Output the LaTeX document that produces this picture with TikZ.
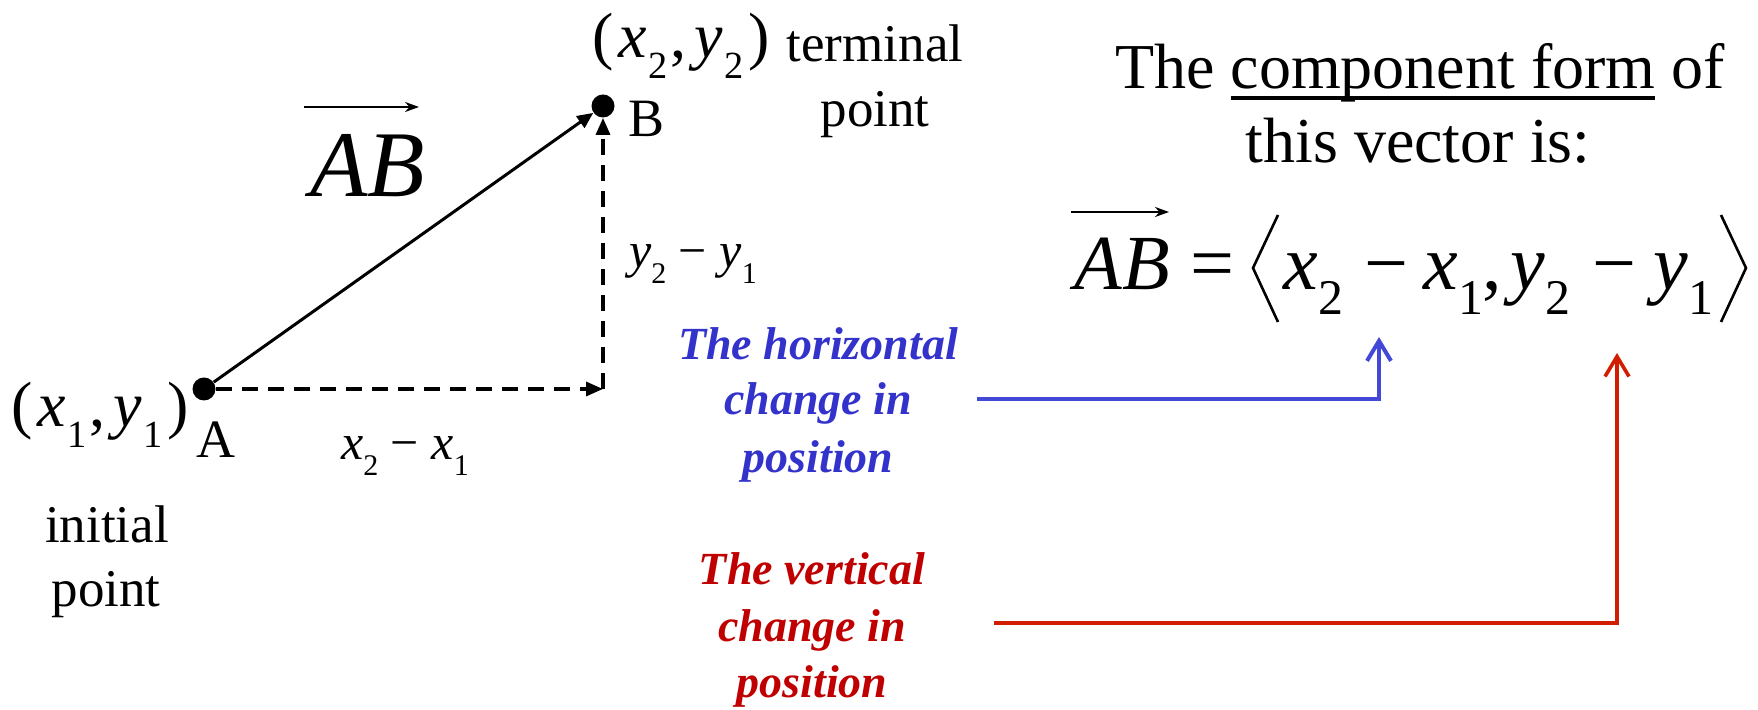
\documentclass[tikz,border=0pt]{standalone}
\usepackage{fontspec}
\setmainfont{Liberation Serif}
\usetikzlibrary{arrows.meta}
\definecolor{bluetxt}{RGB}{51,51,204}
\definecolor{blueln}{RGB}{68,72,214}
\definecolor{redtxt}{RGB}{192,0,0}
\definecolor{redln}{RGB}{210,30,0}
\newcommand\lowsub[2][0.6]{\raisebox{-0.32em}{\scalebox{#1}{#2}}}
\newcommand\mi[1]{\textit{#1}}
\newcommand\ulbar[1]{\sbox0{#1}\rlap{\rule[-5.5pt]{\wd0}{2.2pt}}\usebox0}
\begin{document}
\begin{tikzpicture}[x=0.5pt,y=-0.5pt,
  txt/.style={inner sep=0pt, anchor=base},
  eqp/.style={inner sep=0pt, anchor=base west, font=\fontsize{39}{46}\selectfont},
  dot/.style={circle, fill=black, inner sep=0pt, minimum size=11.5pt},
  vec/.style={line width=1.5pt, -{Triangle[length=8pt,width=7pt]}},
  dsh/.style={line width=1.6pt, dash pattern=on 8pt off 5pt, -{Triangle[length=8.5pt,width=7pt]}},
  overarr/.style={line width=1.3pt, -{Stealth[length=7pt,width=5pt]}},
  brk/.style={line width=1.3pt, line join=miter},
  btxt/.style={txt, font=\fontsize{23}{28}\selectfont\bfseries\itshape, text=bluetxt},
  rtxt/.style={txt, font=\fontsize{23}{28}\selectfont\bfseries\itshape, text=redtxt},
  bline/.style={draw=blueln, line width=2pt, -{Straight Barb[length=10pt,width=12pt]}},
  rline/.style={draw=redln, line width=1.8pt, -{Straight Barb[length=10pt,width=12pt]}}]
\useasboundingbox (0,0) rectangle (1758,710);

% points and vector
\node[dot] (A) at (204,389) {};
\node[dot] (B) at (603,106) {};
\coordinate (C) at (603,389);
\draw[vec] (A) -- (B);
\draw[dsh] (A) -- (C);
\draw[dsh] (C) -- (B);

% labels
\node[txt, font=\fontsize{32}{38}\selectfont] (P1) at (100,427) {(\kern0.08em\mi{x}\kern0.02em\lowsub{1}\kern0.05em,\kern0.12em\mi{y}\kern0.02em\lowsub{1}\kern0.08em)};
\node[txt, font=\fontsize{27}{32}\selectfont] (Alab) at (216,458) {A};
\node[txt, font=\fontsize{27}{32}\selectfont] (Blab) at (647,137) {B};
\node[txt, font=\fontsize{32}{38}\selectfont] (P2) at (681,58) {(\kern0.08em\mi{x}\kern0.02em\lowsub{2}\kern0.05em,\kern0.12em\mi{y}\kern0.02em\lowsub{2}\kern0.08em)};
\node[txt, font=\fontsize{26.5}{32}\selectfont] (term1) at (875,62) {terminal};
\node[txt, font=\fontsize{26.5}{32}\selectfont] (term2) at (875,127) {point};
\node[txt, font=\fontsize{26.5}{32}\selectfont] (init1) at (107,543) {initial};
\node[txt, font=\fontsize{26.5}{32}\selectfont] (init2) at (106,607) {point};
\node[inner sep=0pt, anchor=base west, font=\fontsize{47}{56}\selectfont] (ABbig) at (310,197) {\mi{AB}};
\coordinate (a1s) at (304,107);
\coordinate (a1e) at (419,107);
\draw[overarr] (a1s) -- (a1e);
\node[txt, font=\fontsize{25}{30}\selectfont] (dx) at (405,460) {\mi{x}\lowsub{2} − \mi{x}\lowsub{1}};
\node[txt, font=\fontsize{25}{30}\selectfont] (dy) at (693,268) {\mi{y}\lowsub{2} − \mi{y}\lowsub{1}};

% component form text
\node[txt, font=\fontsize{32}{38}\selectfont] (comp1) at (1420,89) {The \ulbar{component form} of};
\node[txt, font=\fontsize{32}{38}\selectfont] (comp2) at (1418,163) {this vector is:};

% equation
\node[eqp] (eAB) at (1074,290) {\mi{AB}};
\coordinate (a2s) at (1071,212);
\coordinate (a2e) at (1169,212);
\draw[overarr, line width=1.2pt] (a2s) -- (a2e);
\node[eqp] (eEq) at (1190,290) {=};
\node[eqp] (eX2) at (1283,290) {\mi{x}\lowsub[0.64]{2}};
\node[eqp] (eM1) at (1364,290) {−};
\node[eqp] (eX1) at (1423,290) {\mi{x}\lowsub[0.64]{1},};
\node[eqp] (eY2) at (1510,290) {\mi{y}\lowsub[0.64]{2}};
\node[eqp] (eM2) at (1592,290) {−};
\node[eqp] (eY1) at (1653,290) {\mi{y}\lowsub[0.64]{1}};
\draw[brk] (1278,215) -- (1253,268) -- (1278,322);
\draw[brk] (1721,215) -- (1746,268) -- (1721,322);

% explanations
\node[btxt] (h1) at (818,360) {The horizontal};
\node[btxt] (h2) at (818,415) {change in};
\node[btxt] (h3) at (818,473) {position};
\node[rtxt] (v1) at (812,585) {The vertical};
\node[rtxt] (v2) at (812,642) {change in};
\node[rtxt] (v3) at (812,698) {position};

\coordinate (bs) at (977,399);
\coordinate (bc) at (1379,399);
\coordinate (bt) at (1379,337);
\draw[bline] (bs) -- (bc) -- (bt);
\coordinate (rs) at (994,623);
\coordinate (rc) at (1617,623);
\coordinate (rt) at (1617,353);
\draw[rline] (rs) -- (rc) -- (rt);
\end{tikzpicture}
\end{document}
